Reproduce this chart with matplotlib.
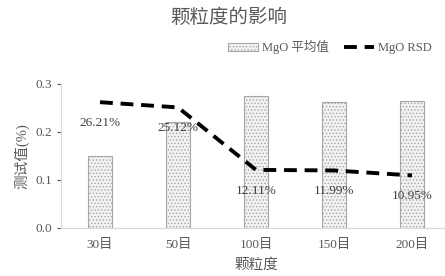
import matplotlib.pyplot as plt
import matplotlib as mpl

plt.rcParams['font.family'] = ['Liberation Serif', 'Noto Sans CJK SC']
mpl.rcParams['hatch.color'] = '#a6a6a6'
mpl.rcParams['hatch.linewidth'] = 0.6

categories = ['30目', '50目', '100目', '150目', '200目']
mgo_mean = [0.151, 0.221, 0.274, 0.262, 0.264]
mgo_rsd = [0.2621, 0.2512, 0.1211, 0.1199, 0.1095]
rsd_labels = ['26.21%', '25.12%', '12.11%', '11.99%', '10.95%']

gray = '#595959'
fig = plt.figure(figsize=(4.45, 2.76), dpi=100)
ax = fig.add_axes([61 / 445, 48 / 276, 390 / 445, 144 / 276])

x = range(len(categories))
bars = ax.bar(x, mgo_mean, width=0.32, color='#f2f2f2', edgecolor='#a6a6a6',
              linewidth=0.8, hatch='.....', label='MgO 平均值', zorder=2)
line, = ax.plot(x, mgo_rsd, color='black', linewidth=2.8, linestyle=(0, (3.3, 2)),
                label='MgO RSD', zorder=3)
for i, (v, t) in enumerate(zip(mgo_rsd, rsd_labels)):
    ax.annotate(t, (i, v), xytext=(0, -15), textcoords='offset points',
                ha='center', va='center', fontsize=9.5, color='#404040', zorder=4)

ax.set_xlim(-0.5, len(categories) - 0.5)
ax.set_ylim(0, 0.3)
ax.set_yticks([0, 0.1, 0.2, 0.3])
ax.set_yticklabels(['0.0', '0.1', '0.2', '0.3'])
ax.set_xticks(list(x))
ax.set_xticklabels(categories)
ax.tick_params(axis='both', colors=gray, labelsize=9.5, length=3)
ax.tick_params(axis='x', length=0, pad=8)
for s in ['top', 'right']:
    ax.spines[s].set_visible(False)
for s in ['left', 'bottom']:
    ax.spines[s].set_color('#d9d9d9')
ax.set_xlabel('颗粒度', color=gray, fontsize=10.5, labelpad=5)
ax.set_ylabel('测试值(%)', color=gray, fontsize=10.5, labelpad=4)

fig.text(0.513, 0.935, '颗粒度的影响', ha='center', va='center', fontsize=14, color=gray)
ax.legend(handles=[bars, line], loc='center', bbox_to_anchor=(330 / 445, 1 - 47 / 276),
          bbox_transform=fig.transFigure, ncol=2, frameon=False, fontsize=9,
          labelcolor=gray, handlelength=2.4, handleheight=0.6, columnspacing=1.2,
          handletextpad=0.3)

fig.savefig('out.png', dpi=100)
